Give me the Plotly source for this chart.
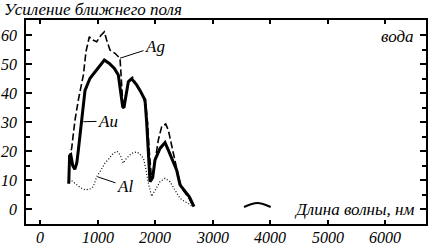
import plotly.graph_objects as go

# Ag (dashed)
ag_x = [500, 551, 580, 609, 667, 754, 800, 858, 900, 986, 1060, 1119, 1159, 1217, 1304, 1362, 1391, 1403,
        1420, 1440, 1470, 1500, 1550, 1610, 1700, 1768, 1840, 1870, 1900, 1942, 1990, 2058, 2116, 2186,
        2232, 2290, 2348, 2400, 2460, 2530, 2600, 2660]
ag_y = [17, 21, 26, 30.8, 37.7, 46.3, 54.4, 59.5, 58.5, 57.8, 60, 61.2, 58.4, 54.9, 53.8, 52.6, 52.1, 48.6,
        42.9, 36.5, 36, 40, 44.5, 45.5, 42, 40, 36, 30, 20, 10, 15, 23.9, 28.5, 29.4,
        27.3, 21.6, 17, 12, 7.5, 5.5, 3.5, 1.2]

# Au (solid)
au_x = [500, 515, 535, 570, 605, 640, 667, 725, 754, 783, 870, 957, 1043, 1119, 1206, 1293, 1362, 1403,
        1438, 1460, 1500, 1536, 1594, 1681, 1739, 1826, 1855, 1884, 1913, 1960, 2000, 2087, 2174, 2232,
        2319, 2377, 2435, 2522, 2597, 2638, 2678]
au_y = [8.8, 18.5, 18.8, 15, 13.8, 16, 20.4, 30.8, 37.7, 41, 45.2, 47.4, 49.2, 51.5, 50.3, 48.6, 46.3, 40.6,
        35.4, 35, 40, 44, 45, 42.9, 41, 37.7, 30, 20, 9.5, 11, 17, 21, 23, 20.4,
        16.4, 13.5, 8.4, 6.1, 4.3, 2.6, 0.9]

# Al (dotted)
al_x = [510, 600, 700, 783, 870, 928, 986, 1060, 1130, 1200, 1275, 1340, 1400, 1449, 1500, 1594, 1680,
        1740, 1800, 1840, 1884, 1942, 2000, 2087, 2174, 2261, 2348, 2435, 2522, 2580, 2638]
al_y = [10.5, 9, 7.5, 6.7, 7, 7.8, 11.2, 13.5, 15.9, 17.5, 19.3, 20, 18.5, 15.9, 17.5, 19.3, 19.8,
        19, 17.5, 14, 9, 4.5, 6.6, 9.5, 10.7, 9.5, 6.6, 3.8, 2.6, 2, 1.1]

# small key stroke beside the x-axis title
key_x = [3548, 3780, 4012]
key_y = [0.8, 2.2, 0.8]

x_ticks = [0, 1000, 2000, 3000, 4000, 5000, 6000]
y_ticks = [0, 10, 20, 30, 40, 50, 60]

FONT = "Liberation Serif"
fig = go.Figure()
fig.add_trace(go.Scatter(x=ag_x, y=ag_y, mode="lines",
                         line=dict(color="black", width=1.6, dash="7px,3px"), hoverinfo="skip"))
fig.add_trace(go.Scatter(x=au_x, y=au_y, mode="lines",
                         line=dict(color="black", width=3), hoverinfo="skip"))
fig.add_trace(go.Scatter(x=al_x, y=al_y, mode="lines",
                         line=dict(color="black", width=1.2, dash="1px,2px"), hoverinfo="skip"))
fig.add_trace(go.Scatter(x=key_x, y=key_y, mode="lines",
                         line=dict(color="black", width=2, shape="spline"), hoverinfo="skip"))

fig.update_xaxes(range=[-243.5, 6713], tickvals=x_ticks, showticklabels=False,
                 showline=True, linecolor="black", linewidth=2, mirror="allticks",
                 ticks="inside", ticklen=4, tickwidth=1.5, tickcolor="black",
                 showgrid=False, zeroline=False, automargin=False)
fig.update_yaxes(range=[-5.07, 65.28], tickvals=y_ticks, showticklabels=False,
                 showline=True, linecolor="black", linewidth=2, mirror="allticks",
                 ticks="inside", ticklen=6, tickwidth=1.5, tickcolor="black",
                 minor=dict(dtick=5, ticks="inside", ticklen=4, tickwidth=1.5, tickcolor="black"),
                 showgrid=False, zeroline=False, automargin=False)

lab = dict(family=FONT, size=17, color="black", style="italic")
tick_lab = dict(family=FONT, size=16, color="black", style="italic")
annots = [
    dict(text="Усиление ближнего поля", xref="paper", yref="paper", x=-0.06, y=1.05,
         xanchor="left", yanchor="middle", showarrow=False, font=lab),
    dict(text="вода", xref="paper", yref="paper", x=0.975, y=0.917,
         xanchor="right", yanchor="middle", showarrow=False, font=lab),
    dict(text="Длина волны, нм", xref="paper", yref="paper", x=0.975, y=0.071,
         xanchor="right", yanchor="middle", showarrow=False, font=lab),
    dict(text="Ag", x=1391, y=52.1, ax=2000, ay=56, axref="x", ayref="y",
         showarrow=True, arrowhead=0, arrowwidth=1, arrowcolor="black", font=lab),
    dict(text="Au", x=753, y=30.2, ax=1183, ay=30.4, axref="x", ayref="y",
         showarrow=True, arrowhead=0, arrowwidth=1, arrowcolor="black", font=lab),
    dict(text="Al", x=1003, y=11.2, ax=1478, ay=8, axref="x", ayref="y",
         showarrow=True, arrowhead=0, arrowwidth=1, arrowcolor="black", font=lab),
]
for v in x_ticks:
    annots.append(dict(text=str(v), x=v, xref="x", y=-0.066, yref="paper",
                       xanchor="center", yanchor="middle", showarrow=False, font=tick_lab))
for v in y_ticks:
    annots.append(dict(text=str(v), x=-0.018, xref="paper", y=v, yref="y",
                       xanchor="right", yanchor="middle", showarrow=False, font=tick_lab))

fig.update_layout(width=429, height=244, margin=dict(l=26, r=3, t=20, b=20),
                  plot_bgcolor="white", paper_bgcolor="white", showlegend=False,
                  font=dict(family=FONT), annotations=annots)
fig.write_html("out.html", config={"displayModeBar": False},
               post_script="document.body.style.margin='0';document.body.style.padding='0';"
                           "document.documentElement.style.overflow='hidden';")
